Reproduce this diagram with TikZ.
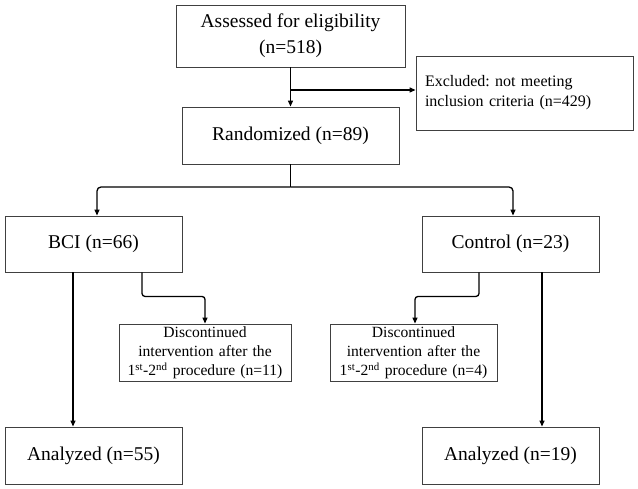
\documentclass[tikz,border=0pt]{standalone}
\usepackage{fontspec}
\setmainfont{Liberation Serif}
\usetikzlibrary{arrows.meta}
\frenchspacing
\begin{document}
\begin{tikzpicture}[x=1pt,y=-1pt,
  box/.style={draw=black!75, line width=0.9pt, fill=white, inner sep=2pt, align=center},
  big/.style={box, font=\fontsize{19.5}{26}\selectfont},
  small/.style={box, font=\fontsize{15.6}{19}\selectfont, text width=#1},
  conn/.style={line width=1.3pt, black},
  arr/.style={conn, -{Triangle[length=6pt,width=5pt]}}]
\useasboundingbox (0,0) rectangle (638,489);
% boxes
\node[big, minimum width=229pt, minimum height=62pt] (assess) at (290.5,36) {Assessed for eligibility\\(n=518)};
\node[box, font=\fontsize{16}{20}\selectfont\frenchspacing, minimum width=217pt, minimum height=74pt, text width=199pt, inner xsep=9pt, align=left] (excl) at (524.5,93) {Excluded: not meeting\\inclusion criteria (n=429)};
\node[big, minimum width=217pt, minimum height=57pt] (rand) at (290.5,135.5) {Randomized (n=89)};
\node[big, minimum width=177pt, minimum height=56pt] (bci) at (93.5,244) {BCI (n=66)};
\node[big, minimum width=177pt, minimum height=56pt] (ctrl) at (510.5,244) {Control (n=23)};
\node[small=168pt, minimum width=172pt, minimum height=57pt] (disc1) at (205,352.5) {Discontinued\\intervention after the\\1\textsuperscript{st}-2\textsuperscript{nd} procedure (n=11)};
\node[small=163pt, minimum width=167pt, minimum height=57pt] (disc2) at (413.5,352.5) {Discontinued\\intervention after the\\1\textsuperscript{st}-2\textsuperscript{nd} procedure (n=4)};
\node[big, minimum width=177pt, minimum height=57pt] (an1) at (93.5,455.5) {Analyzed (n=55)};
\node[big, minimum width=177pt, minimum height=57pt] (an2) at (510.5,455.5) {Analyzed (n=19)};
% connectors
\draw[arr] (assess.south) -- (rand.north);
\coordinate (j1) at (290.5,90);
\draw[arr] (j1) -- (j1 -| excl.west);
\coordinate (split) at (290.5,187);
\draw[conn] (rand.south) -- (split);
\draw[arr, rounded corners=4pt] (split) -| ([xshift=3.5pt]bci.north);
\draw[arr, rounded corners=4pt] (split) -| ([xshift=2.5pt]ctrl.north);
\draw[arr, rounded corners=3pt] ([xshift=48.5pt]bci.south) -- ++(0,24) -| (disc1.north);
\draw[arr, rounded corners=3pt] ([xshift=-31.5pt]ctrl.south) -- ++(0,24) -| ([xshift=1.5pt]disc2.north);
\draw[arr] ([xshift=-20.5pt]bci.south) -- ([xshift=-20.5pt]an1.north);
\draw[arr] ([xshift=31.5pt]ctrl.south) -- ([xshift=31.5pt]an2.north);
\end{tikzpicture}
\end{document}
